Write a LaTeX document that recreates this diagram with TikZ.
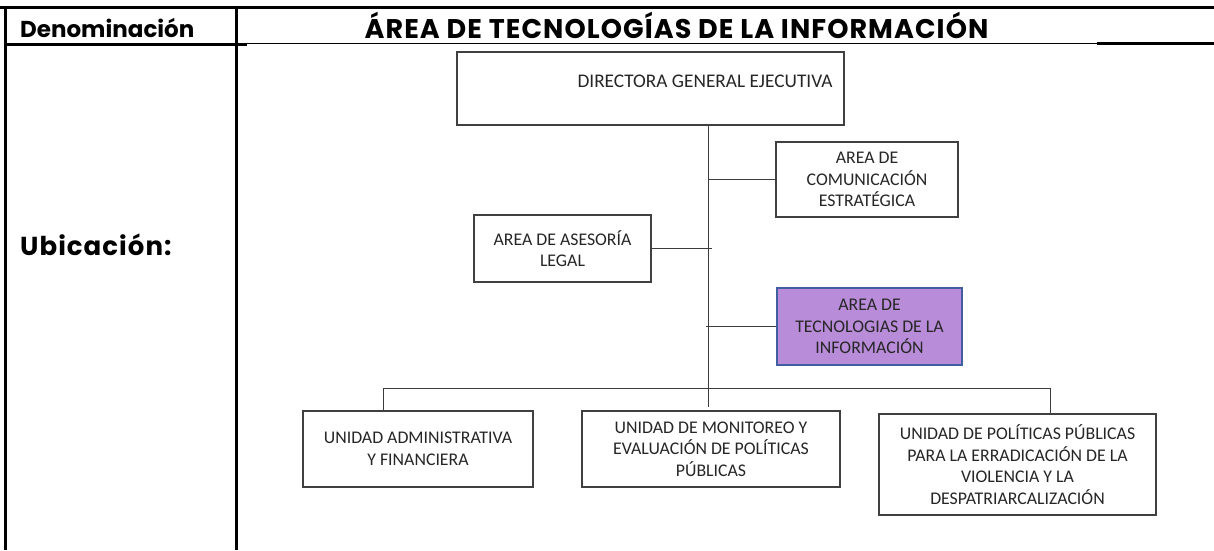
\documentclass[tikz,border=0pt]{standalone}
\usepackage{fontspec}
\setmainfont{Carlito}
\newfontfamily\hdrfont{Poppins}
\newfontfamily\hdrwide{Poppins}[LetterSpace=4]
\definecolor{boxline}{RGB}{64,64,64}
\definecolor{conline}{RGB}{60,60,60}
\definecolor{tifill}{RGB}{185,140,218}
\definecolor{tiline}{RGB}{65,95,160}
\begin{document}
\begin{tikzpicture}[x=1pt,y=-1pt,
  tabline/.style={line width=3pt,black},
  orgbox/.style={draw=boxline,line width=1.3pt,inner sep=0pt,align=center,
    font=\fontsize{17.8}{21.7}\selectfont,text=black!85},
  hilite/.style={orgbox,draw=tiline,line width=1.8pt,fill=tifill},
  conn/.style={draw=conline,line width=1pt},
  hdr/.style={inner sep=0pt,anchor=base west}]
\useasboundingbox (0,0) rectangle (1214,550);
\fill[white] (0,0) rectangle (1214,550);
% table
\draw[tabline] (0,7) -- (1214,7);
\draw[tabline] (5,5.5) -- (5,550);
\draw[tabline] (236,5.5) -- (236,550);
\draw[tabline] (3.5,44) -- (247,44);
\draw[black,line width=1.3pt] (247,43.5) -- (1097,43.5);
\draw[black,line width=2.5pt] (1097,43.5) -- (1214,43.5);
\node[hdr,font=\hdrfont\bfseries\fontsize{23}{27}\selectfont] (den) at (20,37) {Denominación};
\node[hdr,anchor=base,font=\hdrwide\bfseries\fontsize{27}{31}\selectfont] (title) at (676.5,38) {ÁREA DE TECNOLOGÍAS DE LA INFORMACIÓN};
\node[hdr,font=\hdrwide\bfseries\fontsize{26}{30}\selectfont] (ubi) at (20,255) {Ubicación:};
% org chart
\node[orgbox,minimum width=387pt,minimum height=73pt] (dir) at (650.5,88.5) {};
\node[inner sep=0pt,anchor=base,font=\fontsize{19.3}{22}\selectfont,text=black!85] (dirtext) at (705,87) {DIRECTORA GENERAL EJECUTIVA};
\node[orgbox,minimum width=182pt,minimum height=75pt] (com) at (867,179.5) {AREA DE\\COMUNICACIÓN\\ESTRATÉGICA};
\node[orgbox,minimum width=177pt,minimum height=67pt] (ase) at (562.5,248.5) {AREA DE ASESORÍA\\LEGAL};
\node[hilite,minimum width=185pt,minimum height=77pt] (ti) at (869.5,326.5) {AREA DE\\TECNOLOGIAS DE LA\\INFORMACIÓN};
\node[orgbox,minimum width=230pt,minimum height=76pt] (adm) at (418,449) {UNIDAD ADMINISTRATIVA\\Y FINANCIERA};
\node[orgbox,minimum width=258pt,minimum height=76pt] (mon) at (711,449) {UNIDAD DE MONITOREO Y\\EVALUACIÓN DE POLÍTICAS\\PÚBLICAS};
\node[orgbox,minimum width=277pt,minimum height=101pt] (pol) at (1017.5,464.5) {UNIDAD DE POLÍTICAS PÚBLICAS\\PARA LA ERRADICACIÓN DE LA\\VIOLENCIA Y LA\\DESPATRIARCALIZACIÓN};
\coordinate (tbot) at (708,407);
\coordinate (busL) at (383,388);
\coordinate (busR) at (1050,388);
\draw[conn] (dir.south -| tbot) -- (tbot);
\draw[conn] (com.west) -- (com.west -| tbot);
\draw[conn] (ase.east) -- ([xshift=4pt]ase.east -| tbot);
\draw[conn] (ti.west) -- ([xshift=-2pt]ti.west -| tbot);
\draw[conn] (busL) -- (busR);
\draw[conn] (busL) -- (busL |- adm.north);
\draw[conn] (busR) -- (busR |- pol.north);
\end{tikzpicture}
\end{document}
